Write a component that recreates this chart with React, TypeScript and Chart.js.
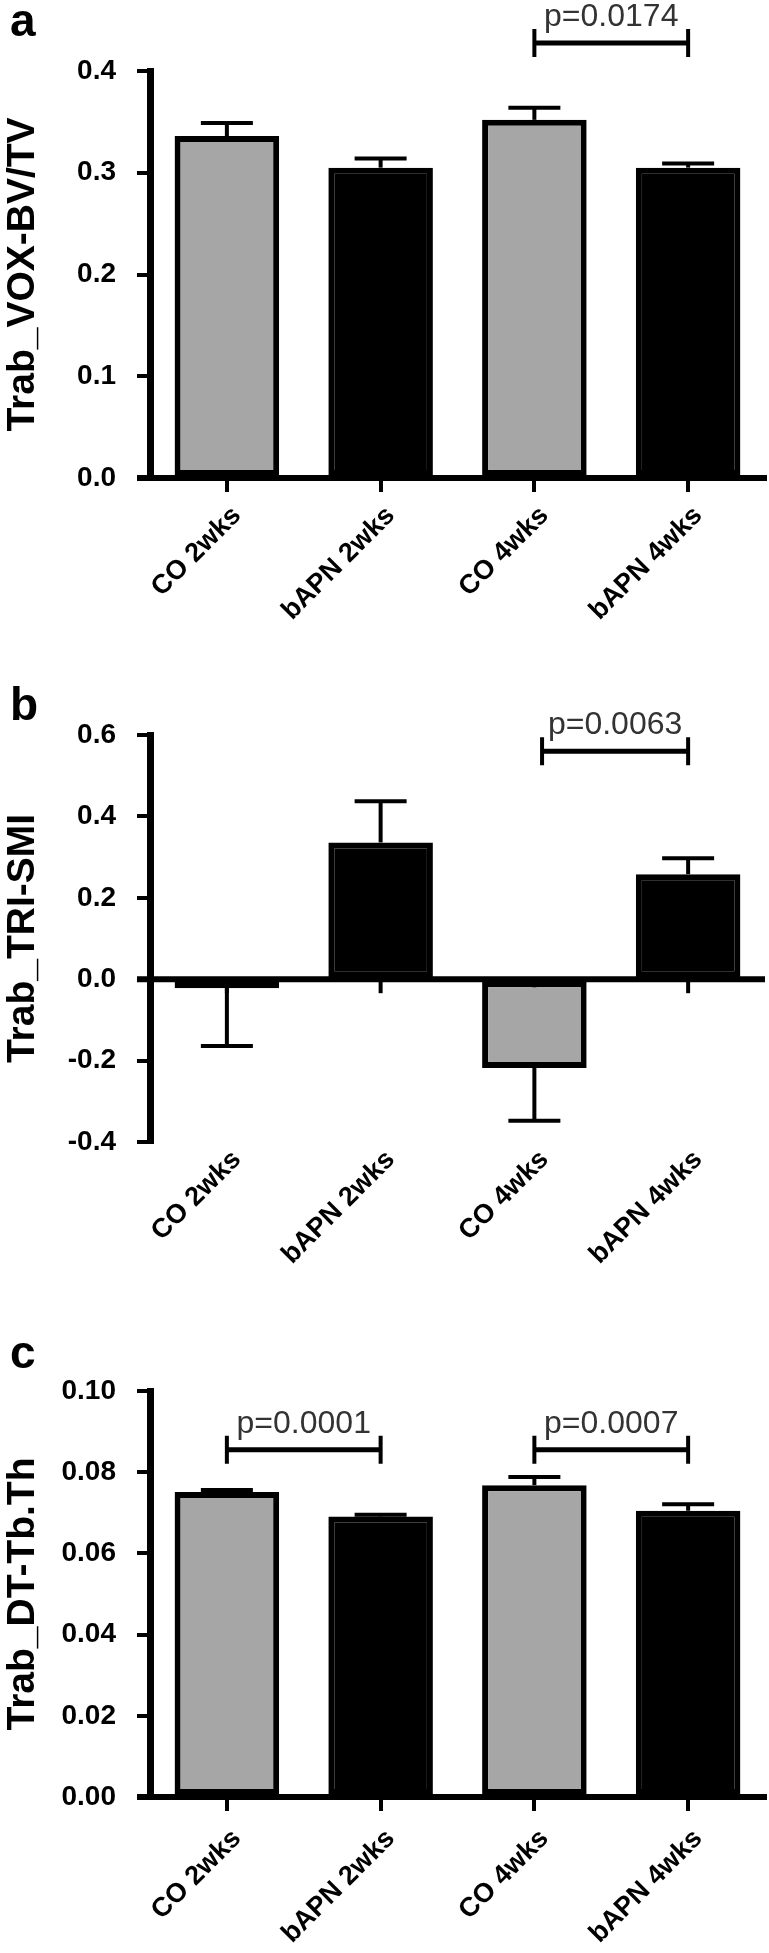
import React, { useEffect, useRef } from 'react';
import { Chart, registerables } from 'chart.js';

Chart.register(...registerables);

const FONT = "'Liberation Sans', Arial, Helvetica, sans-serif";

const categories = ['CO 2wks', 'bAPN 2wks', 'CO 4wks', 'bAPN 4wks'];
const barFill = ['#a6a6a6', '#000000', '#a6a6a6', '#000000'];

// Panel a: Trab_VOX-BV/TV
const bvtvMean = [0.336, 0.305, 0.352, 0.305];
const bvtvSem = [0.013, 0.009, 0.012, 0.004];
const bvtvTicks = [0, 0.1, 0.2, 0.3, 0.4];
const bvtvPairs = [[2, 3]];
const bvtvPLevels = [0.4275];
const bvtvPLabels = ['p=0.0174'];

// Panel b: Trab_TRI-SMI
const smiMean = [-0.022, 0.336, -0.218, 0.258];
const smiSem = [0.142, 0.101, 0.13, 0.039];
const smiTicks = [-0.4, -0.2, 0, 0.2, 0.4, 0.6];
const smiPairs = [[2.05, 3]];
const smiPLevels = [0.56];
const smiPLabels = ['p=0.0063'];

// Panel c: Trab_DT-Tb.Th
const tbthMean = [0.0751, 0.0691, 0.0768, 0.0705];
const tbthSem = [0.0005, 0.0004, 0.002, 0.0016];
const tbthTicks = [0, 0.02, 0.04, 0.06, 0.08, 0.1];
const tbthPairs = [[0, 1], [2, 3]];
const tbthPLevels = [0.0855, 0.0855];
const tbthPLabels = ['p=0.0001', 'p=0.0007'];

type PanelProps = {
  letter: string;
  letterY: number;
  title: string;
  mean: number[];
  sem: number[];
  ticks: number[];
  decimals: number;
  pairs: number[][];
  pLevels: number[];
  pLabels: string[];
  top: number;
  height: number;
  padTop: number;
  xHeight: number;
  zeroLine: boolean;
  xPad: number;
};

function Panel(p: PanelProps) {
  const ref = useRef<HTMLCanvasElement>(null);
  useEffect(() => {
    const canvas = ref.current;
    if (!canvas) return;

    const xAt = (xs: any, v: number) => {
      const i = Math.floor(v);
      const f = v - i;
      const a = xs.getPixelForValue(i);
      if (f === 0) return a;
      const b = xs.getPixelForValue(i + 1);
      return a + (b - a) * f;
    };

    const overlay = {
      id: 'overlay',
      beforeDatasetsDraw(chart: any) {
        const { ctx, chartArea } = chart;
        const xs = chart.scales.x;
        const ys = chart.scales.y;
        const y0 = ys.getPixelForValue(0);
        ctx.save();
        ctx.strokeStyle = '#000';
        if (p.zeroLine) {
          ctx.lineWidth = 6;
          ctx.beginPath();
          ctx.moveTo(chartArea.left - 13, y0);
          ctx.lineTo(chartArea.right, y0);
          ctx.stroke();
          ctx.lineWidth = 4;
          p.mean.forEach((_, i) => {
            const px = xs.getPixelForValue(i);
            ctx.beginPath();
            ctx.moveTo(px, y0);
            ctx.lineTo(px, y0 + 14);
            ctx.stroke();
          });
        } else {
          ctx.lineWidth = 6;
          ctx.beginPath();
          ctx.moveTo(chartArea.left - 13, y0);
          ctx.lineTo(chartArea.left, y0);
          ctx.stroke();
        }
        ctx.restore();
      },
      afterDatasetsDraw(chart: any) {
        const { ctx } = chart;
        const xs = chart.scales.x;
        const ys = chart.scales.y;
        ctx.save();
        ctx.strokeStyle = '#000';
        p.mean.forEach((m, i) => {
          const px = xs.getPixelForValue(i);
          const yv = ys.getPixelForValue(m);
          const ye = ys.getPixelForValue(m + (m < 0 ? -1 : 1) * p.sem[i]);
          ctx.lineWidth = 4;
          ctx.beginPath();
          ctx.moveTo(px, yv);
          ctx.lineTo(px, ye);
          ctx.stroke();
          ctx.beginPath();
          ctx.moveTo(px - 26, ye);
          ctx.lineTo(px + 26, ye);
          ctx.stroke();
        });
        ctx.restore();
      },
      afterDraw(chart: any) {
        const { ctx } = chart;
        const xs = chart.scales.x;
        const ys = chart.scales.y;
        ctx.save();
        p.pairs.forEach(([a, b], k) => {
          const x1 = xAt(xs, a);
          const x2 = xAt(xs, b);
          const yb = ys.getPixelForValue(p.pLevels[k]);
          ctx.strokeStyle = '#000';
          ctx.lineWidth = 5;
          ctx.beginPath();
          ctx.moveTo(x1, yb);
          ctx.lineTo(x2, yb);
          ctx.stroke();
          ctx.lineWidth = 4;
          ctx.beginPath();
          ctx.moveTo(x1, yb - 14);
          ctx.lineTo(x1, yb + 14);
          ctx.moveTo(x2, yb - 14);
          ctx.lineTo(x2, yb + 14);
          ctx.stroke();
          ctx.fillStyle = '#333';
          ctx.font = `32px ${FONT}`;
          ctx.textAlign = 'center';
          ctx.textBaseline = 'alphabetic';
          ctx.fillText(p.pLabels[k], (x1 + x2) / 2, yb - 17);
        });
        ctx.fillStyle = '#000';
        ctx.font = `bold 46px ${FONT}`;
        ctx.textAlign = 'left';
        ctx.textBaseline = 'alphabetic';
        ctx.fillText(p.letter, 10, p.letterY);
        ctx.restore();
      },
    };

    const yTickFont = { family: FONT, size: 28, weight: 'bold' as const };
    const xTickFont = { family: FONT, size: 27, weight: 'bold' as const };

    const chart = new Chart(canvas, {
      type: 'bar',
      data: {
        labels: categories,
        datasets: [
          {
            data: p.mean,
            backgroundColor: barFill,
            borderColor: '#000',
            borderWidth: 6,
            borderSkipped: false,
            barPercentage: 0.68,
            categoryPercentage: 1,
          },
        ],
      },
      options: {
        responsive: false,
        animation: false,
        devicePixelRatio: 1,
        layout: { padding: { top: p.padTop, right: 4, left: 0, bottom: 0 } },
        plugins: { legend: { display: false }, tooltip: { enabled: false } },
        scales: {
          x: {
            offset: true,
            border: { display: !p.zeroLine, width: 6, color: '#000' },
            grid: {
              display: !p.zeroLine,
              offset: false,
              drawOnChartArea: false,
              drawTicks: !p.zeroLine,
              tickLength: 14,
              lineWidth: 4,
              color: '#000',
            },
            ticks: {
              autoSkip: false,
              maxRotation: 45,
              minRotation: 45,
              color: '#000',
              font: xTickFont,
              padding: p.xPad,
              labelOffset: 10,
            },
            afterFit: (s: any) => {
              s.height = p.xHeight;
            },
          },
          y: {
            min: p.ticks[0],
            max: p.ticks[p.ticks.length - 1],
            afterBuildTicks: (s: any) => {
              s.ticks = p.ticks.map((v) => ({ value: v }));
            },
            border: { display: true, width: 7, color: '#000' },
            grid: {
              drawOnChartArea: false,
              drawTicks: true,
              tickLength: 13,
              lineWidth: 4,
              color: '#000',
            },
            ticks: {
              color: '#000',
              font: yTickFont,
              padding: 21,
              callback: (v: any) => Number(v).toFixed(p.decimals),
            },
            title: {
              display: true,
              text: p.title,
              color: '#000',
              font: { family: FONT, size: 39, weight: 'bold' },
              padding: 0,
            },
            afterFit: (s: any) => {
              s.width = 150;
            },
          },
        },
      },
      plugins: [overlay],
    } as any);
    return () => chart.destroy();
  }, []);
  return (
    <canvas
      ref={ref}
      width={769}
      height={p.height}
      style={{ position: 'absolute', left: 0, top: p.top, width: 769, height: p.height, display: 'block' }}
    />
  );
}

export default function App() {
  return (
    <div style={{ position: 'absolute', left: 0, top: 0, width: 769, height: 1953, background: '#fff' }}>
      <Panel
        letter="a"
        letterY={36}
        title="Trab_VOX-BV/TV"
        mean={bvtvMean}
        sem={bvtvSem}
        ticks={bvtvTicks}
        decimals={1}
        pairs={bvtvPairs}
        pLevels={bvtvPLevels}
        pLabels={bvtvPLabels}
        top={0}
        height={640}
        padTop={71}
        xHeight={162}
        zeroLine={false}
        xPad={8}
      />
      <Panel
        letter="b"
        letterY={80}
        title="Trab_TRI-SMI"
        mean={smiMean}
        sem={smiSem}
        ticks={smiTicks}
        decimals={1}
        pairs={smiPairs}
        pLevels={smiPLevels}
        pLabels={smiPLabels}
        top={640}
        height={680}
        padTop={95}
        xHeight={178}
        zeroLine={true}
        xPad={2}
      />
      <Panel
        letter="c"
        letterY={48}
        title="Trab_DT-Tb.Th"
        mean={tbthMean}
        sem={tbthSem}
        ticks={tbthTicks}
        decimals={2}
        pairs={tbthPairs}
        pLevels={tbthPLevels}
        pLabels={tbthPLabels}
        top={1320}
        height={633}
        padTop={71}
        xHeight={156}
        zeroLine={false}
        xPad={12}
      />
    </div>
  );
}
